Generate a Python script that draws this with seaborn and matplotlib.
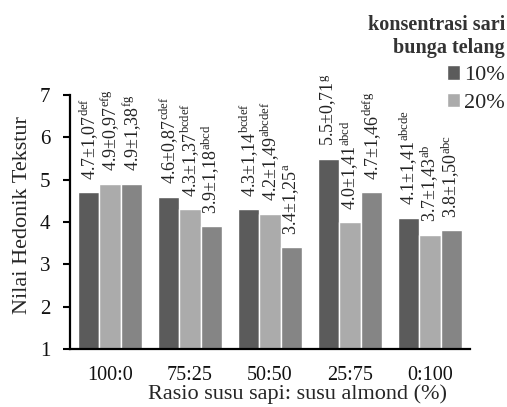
import matplotlib
matplotlib.use("Agg")
import matplotlib.pyplot as plt
import pandas as pd
import seaborn as sns

# Data
ratios = ["100:0", "75:25", "50:50", "25:75", "0:100"]
concentrations = ["10%", "20%", "30%"]
values_10 = [4.7, 4.6, 4.3, 5.5, 4.1]
values_20 = [4.9, 4.3, 4.2, 4.0, 3.7]
values_30 = [4.9, 3.9, 3.4, 4.7, 3.8]
sd_10 = ["1,07", "0,87", "1,14", "0,71", "1,41"]
sd_20 = ["0,97", "1,37", "1,49", "1,41", "1,43"]
sd_30 = ["1,38", "1,18", "1,25", "1,46", "1,50"]
letters_10 = ["def", "cdef", "bcdef", "g", "abcde"]
letters_20 = ["efg", "bcdef", "abcdef", "abcd", "ab"]
letters_30 = ["fg", "abcd", "a", "defg", "abc"]

colors = ["#5b5b5b", "#ababab", "#858585"]

df = pd.DataFrame({
    "ratio": ratios * 3,
    "konsentrasi": [c for c in concentrations for _ in ratios],
    "nilai": values_10 + values_20 + values_30,
})

sns.set_theme(style="white")
plt.rcParams["font.family"] = ["Liberation Serif", "DejaVu Serif"]
plt.rcParams["mathtext.fontset"] = "custom"
plt.rcParams["mathtext.rm"] = "Liberation Serif"
plt.rcParams["mathtext.it"] = "Liberation Serif:italic"

fig = plt.figure(figsize=(5.07, 4.07), dpi=100)
ax = fig.add_axes([0.138, 0.1425, 0.789, 0.624])

sns.barplot(data=df, x="ratio", y="nilai", hue="konsentrasi",
            order=ratios, hue_order=concentrations, palette=colors,
            width=0.8, saturation=1, ax=ax, legend=True)

ax.set_ylim(1, 7)
ax.set_yticks(range(1, 8))
ax.set_xlim(-0.5, 4.5)

# value labels with significance letters
all_values = [values_10, values_20, values_30]
all_sd = [sd_10, sd_20, sd_30]
all_letters = [letters_10, letters_20, letters_30]
for cont, vals, sds, lets in zip(ax.containers, all_values, all_sd, all_letters):
    labels = [f"{v:.1f}\u00b1{s}" + r"$^{\mathrm{" + l + "}}$"
              for v, s, l in zip(vals, sds, lets)]
    ax.bar_label(cont, labels=labels, rotation=90, padding=9,
                 fontsize=13, color="#222222")

sns.despine(ax=ax, top=True, right=True)
for side in ["left", "bottom"]:
    ax.spines[side].set_color("black")
    ax.spines[side].set_linewidth(1.6)
ax.tick_params(axis="y", which="both", left=True, length=5, width=1.5,
               color="black", labelsize=15, pad=9)
ax.tick_params(axis="x", bottom=False, labelsize=14.5, pad=6)
ax.set_xlabel("Rasio susu sapi: susu almond (%)", fontsize=16,
              labelpad=0, x=0.57)
ax.set_ylabel("Nilai Hedonik Tekstur", fontsize=16, labelpad=6, y=0.527)
for t in ax.get_xticklabels() + ax.get_yticklabels():
    t.set_color("#111111")

# legend only shows the first two concentrations
handles, labels = ax.get_legend_handles_labels()
ax.get_legend().remove()
leg = fig.legend(handles[:2], labels[:2], title="konsentrasi sari\nbunga telang",
                 loc="upper right", bbox_to_anchor=(1.005, 0.975), frameon=False,
                 fontsize=16, title_fontproperties={"size": 14.5, "weight": "bold"},
                 alignment="right",
                 handlelength=0.6, handleheight=0.6, handletextpad=0.2,
                 labelspacing=0.35, borderaxespad=0, borderpad=0.2)
leg.get_title().set_multialignment("right")
leg.get_title().set_color("#333333")

fig.savefig("out.png", dpi=100)
